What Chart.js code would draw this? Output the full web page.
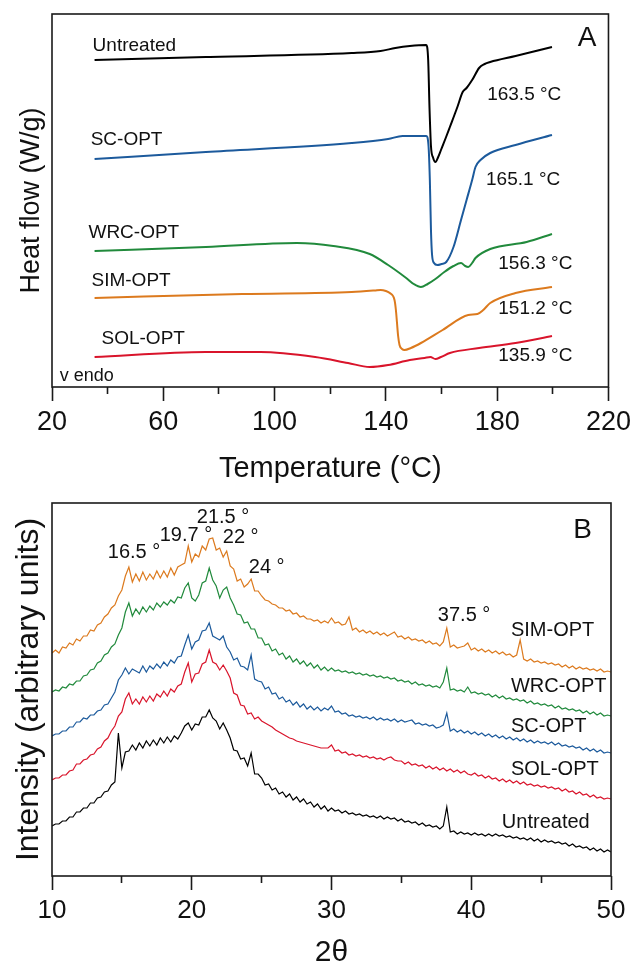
<!DOCTYPE html>
<html>
<head>
<meta charset="utf-8">
<script src="https://cdn.jsdelivr.net/npm/chart.js@4/dist/chart.umd.min.js"></script>
<style>
  html, body { margin: 0; padding: 0; background: #fff; }
  #wrap { position: relative; width: 636px; height: 965px; }
  .panel { position: absolute; left: 0; width: 636px; }
  #dsc-box { top: 0; height: 483px; }
  #xrd-box { top: 483px; height: 482px; }
</style>
</head>
<body>
<div id="wrap">
  <div class="panel" id="dsc-box"><canvas id="dscChart"></canvas></div>
  <div class="panel" id="xrd-box"><canvas id="xrdChart"></canvas></div>
</div>
<script>
// ✅ DSC data (temperature °C / heat flow, curves offset, arbitrary units)
const untreatedT  = [35.3, 75.3, 127.7, 138.1, 143.4, 148.6, 154.5, 155.2, 155.7, 156.2, 157.0, 157.8, 158.8, 159.8, 161.5, 163.0, 165.7, 167.6, 169.0, 171.0, 173.5, 175.5, 177.5, 186.6, 199.7];
const untreatedHF = [3.27, 3.30, 3.34, 3.36, 3.39, 3.41, 3.42, 3.27, 2.77, 2.41, 2.29, 2.25, 2.30, 2.37, 2.49, 2.60, 2.80, 2.95, 2.99, 3.07, 3.19, 3.23, 3.25, 3.31, 3.40];

const scT  = [35.3, 75.3, 127.7, 140.8, 146.0, 154.5, 155.3, 155.8, 156.2, 156.6, 157.3, 158.5, 160.0, 161.7, 164.3, 167.0, 169.0, 171.0, 172.2, 174.0, 177.5, 186.6, 199.7];
const scHF = [2.28, 2.35, 2.44, 2.48, 2.51, 2.51, 2.42, 2.07, 1.57, 1.32, 1.24, 1.22, 1.23, 1.25, 1.40, 1.67, 1.87, 2.07, 2.20, 2.27, 2.34, 2.42, 2.52];

const wrcT  = [35.3, 75.3, 108.0, 121.1, 134.2, 140.8, 147.3, 150.0, 152.6, 155.0, 157.8, 161.0, 164.3, 167.0, 168.5, 169.6, 171.0, 172.2, 177.5, 190.6, 199.7];
const wrcHF = [1.36, 1.40, 1.44, 1.41, 1.33, 1.22, 1.09, 1.03, 1.00, 1.03, 1.08, 1.15, 1.21, 1.24, 1.21, 1.20, 1.24, 1.29, 1.38, 1.45, 1.53];

const simT  = [35.3, 88.4, 127.7, 136.0, 138.1, 140.0, 141.4, 143.1, 143.6, 144.0, 144.4, 144.9, 145.8, 146.7, 149.0, 152.6, 160.4, 169.6, 172.9, 175.0, 177.5, 186.6, 199.7];
const simHF = [0.89, 0.93, 0.95, 0.965, 0.97, 0.96, 0.94, 0.87, 0.77, 0.64, 0.51, 0.42, 0.38, 0.37, 0.39, 0.44, 0.57, 0.72, 0.73, 0.77, 0.84, 0.94, 1.00];

const solT  = [35.3, 75.3, 94.9, 114.6, 126.4, 134.2, 140.8, 148.6, 153.9, 156.0, 157.8, 159.8, 163.0, 173.5, 186.6, 199.7];
const solHF = [0.30, 0.35, 0.35, 0.30, 0.24, 0.20, 0.22, 0.27, 0.29, 0.30, 0.28, 0.30, 0.34, 0.39, 0.44, 0.51];

const dscNames = ['Untreated', 'SC-OPT', 'WRC-OPT', 'SIM-OPT', 'SOL-OPT'];
const dscPeaks = ['163.5 °C', '165.1 °C', '156.3 °C', '151.2 °C', '135.9 °C'];
const dscTicks = [20, 60, 100, 140, 180, 220];

// ✅ XRD data (2θ grid of 0.25°, intensity in arbitrary units, curves offset)
const twoTheta = Array.from({ length: 161 }, (_, i) => 10 + i * 0.25);

const simXrd = [
  223, 226, 223, 229, 228, 233, 231, 237, 235, 240, 240, 246, 245, 251, 253, 259, 262, 268, 271, 280,
  286, 300, 309, 294, 302, 295, 304, 296, 302, 297, 305, 298, 305, 299, 308, 301, 309, 311, 313, 330,
  314, 322, 319, 330, 326, 337, 338, 326, 328, 319, 325, 310, 307, 295, 297, 289, 292, 297, 285, 285,
  280, 276, 275, 272, 271, 268, 268, 265, 266, 262, 263, 259, 260, 257, 257, 255, 256, 253, 255, 253,
  258, 253, 254, 251, 252, 259, 246, 248, 244, 246, 243, 245, 242, 244, 241, 243, 240, 242, 244, 239,
  240, 237, 239, 236, 237, 235, 236, 233, 235, 232, 233, 230, 234, 248, 229, 231, 228, 229, 230, 233,
  226, 228, 225, 227, 224, 226, 223, 225, 222, 224, 221, 222, 219, 221, 236, 217, 215, 217, 214, 215,
  213, 214, 212, 213, 211, 212, 209, 211, 208, 210, 207, 209, 207, 208, 206, 207, 205, 207, 204, 205,
  204
];
const wrcXrd = [
  184, 186, 185, 189, 188, 192, 191, 195, 195, 200, 201, 206, 207, 213, 215, 221, 223, 229, 232, 241,
  248, 264, 273, 260, 267, 262, 269, 264, 270, 266, 273, 269, 274, 271, 276, 273, 279, 278, 288, 293,
  278, 275, 281, 293, 295, 308, 296, 290, 278, 286, 289, 278, 271, 262, 261, 253, 254, 247, 247, 238,
  238, 231, 232, 225, 227, 221, 223, 217, 220, 214, 217, 212, 215, 210, 213, 208, 211, 206, 209, 205,
  208, 205, 206, 204, 205, 203, 204, 202, 203, 201, 202, 200, 201, 199, 200, 198, 199, 197, 198, 195,
  196, 194, 195, 192, 194, 191, 192, 190, 191, 189, 190, 188, 194, 208, 186, 187, 185, 186, 184, 189,
  183, 184, 182, 183, 181, 182, 179, 181, 178, 180, 177, 178, 176, 177, 175, 176, 173, 175, 172, 173,
  171, 172, 170, 171, 168, 170, 167, 168, 166, 167, 165, 166, 163, 165, 162, 164, 161, 163, 160, 161,
  160
];
const scXrd = [
  140, 142, 142, 145, 145, 149, 149, 154, 154, 158, 157, 161, 161, 165, 166, 171, 172, 178, 184, 196,
  201, 208, 202, 207, 205, 203, 210, 204, 210, 207, 212, 208, 214, 210, 216, 213, 219, 220, 231, 241,
  227, 234, 236, 245, 246, 253, 240, 238, 236, 240, 229, 224, 216, 218, 210, 209, 206, 221, 197, 195,
  194, 187, 189, 182, 183, 177, 179, 174, 176, 171, 174, 169, 172, 167, 170, 166, 169, 165, 168, 166,
  170, 164, 165, 162, 163, 160, 161, 159, 160, 158, 159, 157, 159, 156, 158, 156, 157, 155, 157, 154,
  156, 154, 155, 156, 152, 153, 151, 152, 150, 151, 148, 149, 151, 163, 145, 147, 144, 146, 143, 145,
  142, 144, 141, 143, 140, 142, 139, 141, 138, 140, 137, 139, 136, 138, 135, 137, 134, 136, 133, 135,
  133, 134, 132, 134, 131, 133, 130, 131, 129, 130, 128, 129, 126, 128, 125, 127, 124, 126, 123, 124,
  123
];
const solXrd = [
  96, 98, 98, 101, 101, 105, 106, 112, 112, 116, 117, 121, 122, 127, 129, 135, 138, 145, 150, 160,
  164, 177, 183, 172, 177, 172, 179, 174, 180, 175, 182, 179, 185, 180, 187, 184, 190, 192, 204, 213,
  194, 202, 203, 212, 214, 226, 214, 212, 206, 211, 205, 198, 183, 181, 171, 170, 162, 163, 157, 159,
  155, 153, 151, 149, 146, 144, 142, 140, 138, 137, 135, 134, 133, 132, 131, 130, 129, 128, 128, 128,
  131, 125, 126, 123, 124, 121, 122, 120, 121, 119, 120, 118, 119, 117, 118, 116, 118, 119, 116, 115,
  115, 112, 114, 111, 112, 110, 111, 108, 110, 107, 109, 106, 108, 105, 107, 104, 106, 103, 105, 102,
  101, 103, 100, 101, 98, 100, 97, 98, 95, 97, 94, 96, 93, 95, 92, 94, 91, 92, 90, 91,
  89, 90, 88, 89, 87, 88, 85, 87, 84, 85, 82, 84, 81, 82, 79, 81, 78, 79, 77, 78,
  77
];
const untreatedXrd = [
  50, 52, 52, 55, 55, 59, 59, 64, 64, 68, 68, 73, 73, 78, 79, 84, 85, 91, 94, 143,
  108, 124, 125, 131, 126, 133, 128, 135, 130, 136, 131, 138, 133, 139, 134, 140, 137, 143, 150, 153,
  146, 152, 151, 159, 159, 166, 158, 155, 147, 153, 146, 138, 126, 125, 117, 118, 110, 123, 102, 102,
  98, 91, 92, 86, 88, 82, 84, 79, 82, 76, 79, 74, 77, 72, 74, 69, 72, 67, 70, 65,
  68, 65, 66, 63, 65, 62, 63, 61, 62, 60, 61, 59, 60, 58, 60, 57, 59, 57, 58, 55,
  57, 54, 55, 53, 54, 51, 53, 50, 51, 49, 50, 47, 50, 69, 44, 45, 42, 44, 42, 43,
  41, 43, 41, 42, 40, 42, 40, 42, 40, 41, 39, 40, 38, 39, 37, 38, 36, 38, 35, 37,
  34, 36, 34, 35, 33, 34, 32, 33, 30, 32, 29, 30, 28, 29, 26, 28, 25, 27, 24, 26,
  24
];

const xrdNames = ['SIM-OPT', 'WRC-OPT', 'SC-OPT', 'SOL-OPT', 'Untreated'];
const xrdPeaks = ['16.5 °', '19.7 °', '21.5 °', '22 °', '24 °', '37.5 °'];
const xrdTicks = [10, 20, 30, 40, 50];

// ✅ colours
const colBlack = '#000000';
const colBlue = '#1c5a9c';
const colGreen = '#218a3c';
const colOrange = '#dc7a1e';
const colRed = '#d9142b';
const ink = '#111111';

// ✅ where the texts sit (in data units of each panel)
const dscNamePos = [[34.6, 3.41], [33.9, 2.47], [33.1, 1.54], [34.2, 1.06], [37.8, 0.48]];
const dscPeakPos = [[176.4, 2.92], [176.0, 2.07], [180.4, 1.23], [180.4, 0.78], [180.4, 0.31]];
const xrdNamePos = [[42.84, 246], [42.84, 190], [42.84, 150], [42.84, 107], [42.19, 54]];
const xrdPeakPos = [[13.99, 324], [17.71, 341], [20.36, 359], [22.22, 339], [24.08, 309], [37.61, 261]];

const FONT = "'Liberation Sans', Arial, Helvetica, sans-serif";
Chart.defaults.font.family = FONT;
Chart.defaults.color = ink;

function xy(xs, ys) {
    return ys.map((v, i) => ({ x: xs[i], y: v }));
}

// ✅ box around the plot area
const framePlugin = {
    id: 'frame',
    afterDraw(chart) {
        const { ctx, chartArea: a } = chart;
        ctx.save();
        ctx.strokeStyle = '#1a1a1a';
        ctx.lineWidth = 1.6;
        ctx.strokeRect(a.left, a.top, a.right - a.left, a.bottom - a.top);
        ctx.restore();
    }
};

// ✅ free texts placed through the scales
function notesPlugin(items) {
    return {
        id: 'notes',
        afterDatasetsDraw(chart) {
            const { ctx, scales: { x, y } } = chart;
            ctx.save();
            ctx.fillStyle = ink;
            ctx.textBaseline = 'middle';
            items.forEach(it => {
                ctx.font = `${it.size}px ${FONT}`;
                ctx.textAlign = it.align || 'left';
                ctx.fillText(it.text, x.getPixelForValue(it.at[0]), y.getPixelForValue(it.at[1]));
            });
            ctx.restore();
        }
    };
}

function bottomAxis(min, max, step, major, title, titleFont, height, labelSize) {
    return {
        type: 'linear',
        min: min,
        max: max,
        ticks: {
            stepSize: step,
            autoSkip: false,
            maxRotation: 0,
            padding: 5,
            color: ink,
            font: { size: labelSize },
            callback: v => major.includes(v) ? v : ''
        },
        grid: {
            display: true,
            drawOnChartArea: false,
            drawTicks: true,
            tickLength: 14,
            tickWidth: 1.6,
            tickColor: '#1a1a1a',
            tickBorderDash: c => (c.tick && major.includes(c.tick.value)) ? [] : [7, 40]
        },
        border: { display: false },
        title: { display: true, text: title, color: ink, font: titleFont, padding: { top: 0, bottom: 0 } },
        afterFit: s => { s.height = height; }
    };
}

function leftAxis(max, title, size, pad) {
    return {
        min: 0,
        max: max,
        ticks: { display: false },
        grid: { display: false },
        border: { display: false },
        title: { display: true, text: title, color: ink, font: { size: size }, padding: { top: pad, bottom: 0 } },
        afterFit: s => { s.width = 52; }
    };
}

function line(label, data, color, width) {
    return {
        label: label,
        data: data,
        borderColor: color,
        borderWidth: width,
        pointRadius: 0,
        fill: false,
        cubicInterpolationMode: 'monotone'
    };
}

// ✅ panel A: DSC
const dscNotes = [];
dscNames.forEach((t, i) => dscNotes.push({ text: t, at: dscNamePos[i], size: 19 }));
dscPeaks.forEach((t, i) => dscNotes.push({ text: t, at: dscPeakPos[i], size: 19 }));
dscNotes.push({ text: 'v endo', at: [22.8, 0.11], size: 18 });
dscNotes.push({ text: 'A', at: [215.7, 3.49], size: 28, align: 'right' });

new Chart(document.getElementById('dscChart'), {
    type: 'line',
    data: {
        datasets: [
            line(dscNames[0], xy(untreatedT, untreatedHF), colBlack, 2),
            line(dscNames[1], xy(scT, scHF), colBlue, 2),
            line(dscNames[2], xy(wrcT, wrcHF), colGreen, 2),
            line(dscNames[3], xy(simT, simHF), colOrange, 2),
            line(dscNames[4], xy(solT, solHF), colRed, 2)
        ]
    },
    options: {
        responsive: true,
        maintainAspectRatio: false,
        animation: false,
        layout: { padding: { top: 14, right: 25, bottom: 0, left: 0 } },
        plugins: { legend: { display: false }, tooltip: { enabled: false } },
        scales: {
            x: bottomAxis(20, 220, 20, dscTicks, 'Temperature (°C)', { size: 29, lineHeight: 1 }, 96, 27),
            y: leftAxis(3.73, 'Heat flow (W/g)', 27, 15)
        }
    },
    plugins: [framePlugin, notesPlugin(dscNotes)]
});

// ✅ panel B: XRD
const xrdNotes = [];
xrdPeaks.forEach((t, i) => xrdNotes.push({ text: t, at: xrdPeakPos[i], size: 20 }));
xrdNames.forEach((t, i) => xrdNotes.push({ text: t, at: xrdNamePos[i], size: 20 }));
xrdNotes.push({ text: 'B', at: [48.63, 346], size: 28, align: 'right' });

new Chart(document.getElementById('xrdChart'), {
    type: 'line',
    data: {
        datasets: [
            line(xrdNames[0], xy(twoTheta, simXrd), colOrange, 1.2),
            line(xrdNames[1], xy(twoTheta, wrcXrd), colGreen, 1.2),
            line(xrdNames[2], xy(twoTheta, scXrd), colBlue, 1.2),
            line(xrdNames[3], xy(twoTheta, solXrd), colRed, 1.2),
            line(xrdNames[4], xy(twoTheta, untreatedXrd), colBlack, 1.2)
        ].map(d => Object.assign(d, { cubicInterpolationMode: 'default', tension: 0 }))
    },
    options: {
        responsive: true,
        maintainAspectRatio: false,
        animation: false,
        layout: { padding: { top: 20, right: 25, bottom: 0, left: 0 } },
        plugins: { legend: { display: false }, tooltip: { enabled: false } },
        scales: {
            x: bottomAxis(10, 50, 5, xrdTicks, '2θ', { size: 30, lineHeight: 0.8 }, 89, 26),
            y: leftAxis(373, 'Intensity (arbitrary units)', 32, 10)
        }
    },
    plugins: [framePlugin, notesPlugin(xrdNotes)]
});
</script>
</body>
</html>
